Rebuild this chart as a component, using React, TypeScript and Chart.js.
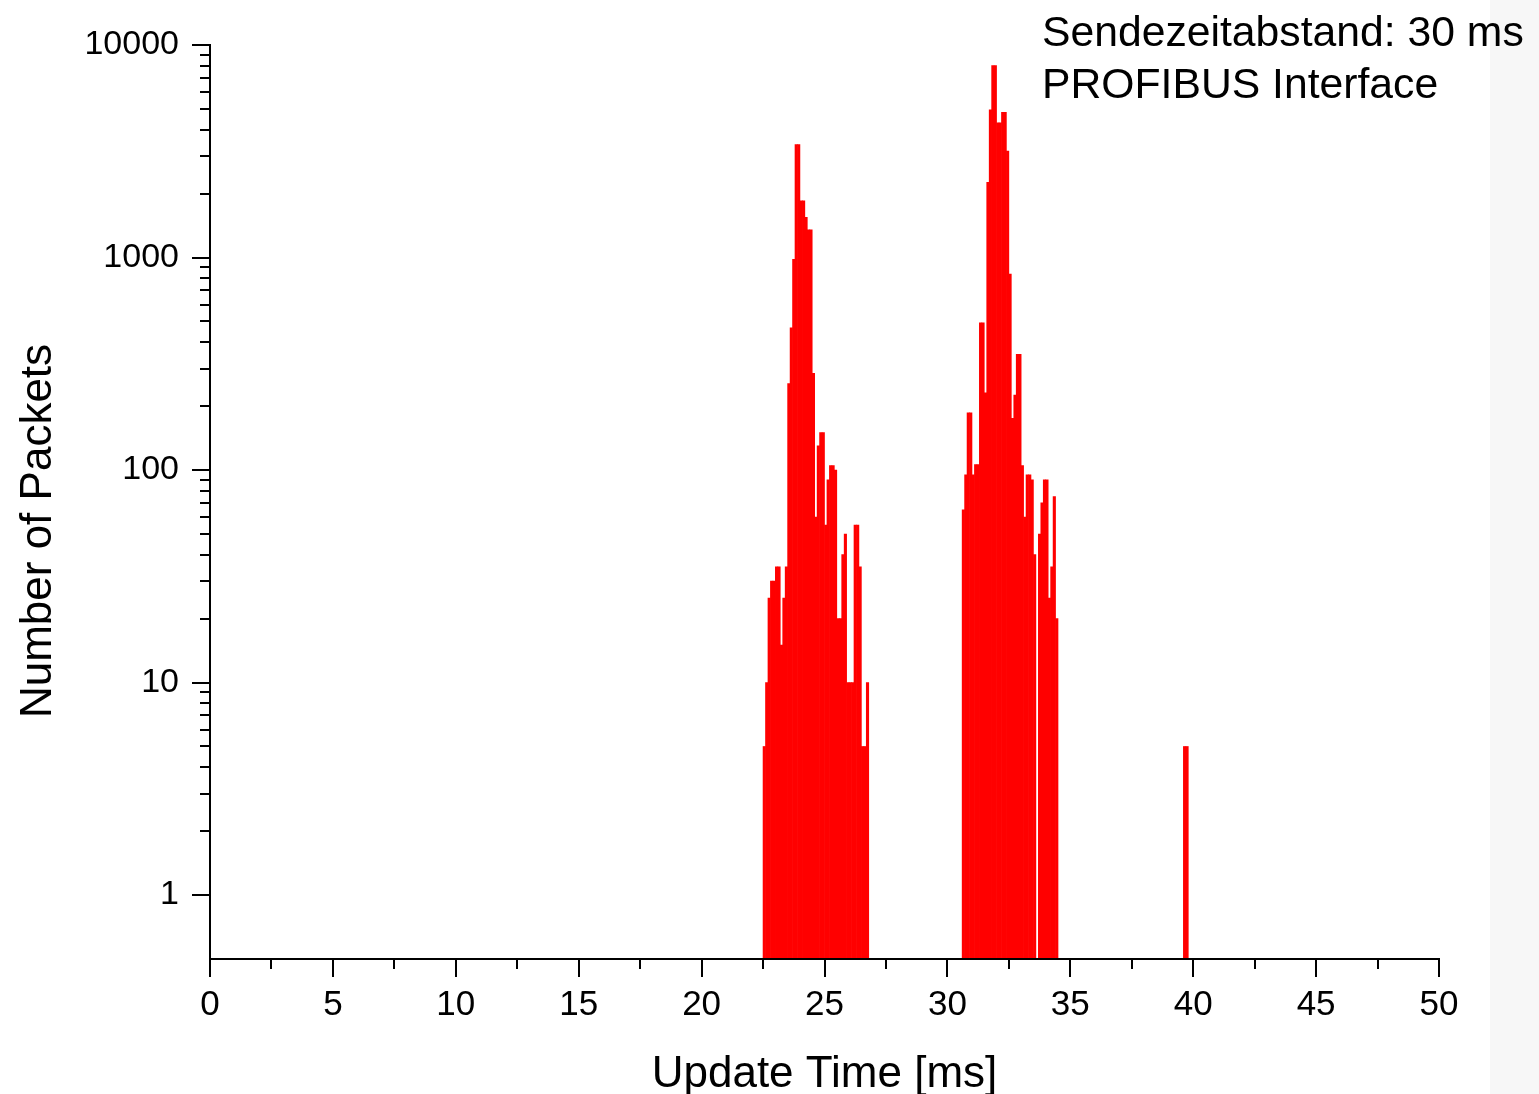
import React, { useEffect, useRef } from "react";
import { Chart, registerables } from "chart.js";

Chart.register(...registerables);

// ---- data ----
const BIN_WIDTH_MS = 0.1;

const firstPeakStarts = [
  22.5, 22.6, 22.7, 22.8, 22.9, 23.0, 23.1, 23.2, 23.3, 23.4,
  23.5, 23.6, 23.7, 23.8, 23.9, 24.0, 24.1, 24.2, 24.3, 24.4,
  24.5, 24.6, 24.7, 24.8, 24.9, 25.0, 25.1, 25.2, 25.3, 25.4,
  25.5, 25.6, 25.7, 25.8, 25.9, 26.0, 26.1, 26.2, 26.3, 26.4,
  26.5, 26.6, 26.7,
];
const firstPeakCounts = [
  5, 10, 25, 30, 30, 35, 35, 15, 25, 35,
  255, 467, 980, 3400, 3400, 1850, 1850, 1545, 1350, 1350,
  285, 60, 130, 150, 150, 55, 90, 105, 105, 100,
  20, 20, 40, 50, 10, 10, 10, 55, 55, 35,
  5, 5, 10,
];

const secondPeakStarts = [
  30.6, 30.7, 30.8, 30.9, 31.0, 31.1, 31.2, 31.3, 31.4, 31.5,
  31.6, 31.7, 31.8, 31.9, 32.0, 32.1, 32.2, 32.3, 32.4, 32.5,
  32.6, 32.7, 32.8, 32.9, 33.0, 33.1, 33.2, 33.3, 33.4, 33.5,
  33.7, 33.8, 33.9, 34.0, 34.1, 34.2, 34.3, 34.4,
];
const secondPeakCounts = [
  65, 95, 186, 186, 95, 106, 106, 493, 493, 231,
  2260, 4950, 8000, 8000, 4300, 4300, 4820, 4820, 3170, 836,
  175, 225, 350, 350, 105, 60, 95, 95, 90, 40,
  50, 70, 90, 90, 25, 35, 75, 20,
];

const outlierStarts = [39.6, 39.7];
const outlierCounts = [5, 5];

const xMajorTicks = [0, 5, 10, 15, 20, 25, 30, 35, 40, 45, 50];
const xMinorTicks = [2.5, 7.5, 12.5, 17.5, 22.5, 27.5, 32.5, 37.5, 42.5, 47.5];
const yMajorTicks = [1, 10, 100, 1000, 10000];
const yMinorMultipliers = [2, 3, 4, 5, 6, 7, 8, 9];

const xTitle = "Update Time [ms]";
const yTitle = "Number of Packets";
const annotationLines = ["Sendezeitabstand: 30 ms", "PROFIBUS Interface"];

const FONT = '"Liberation Sans", Arial, Helvetica, sans-serif';
const BAR_COLOR = "#ff0000";

function toPoints(starts: number[], counts: number[]) {
  return starts.map((s, i) => ({ x: s + BIN_WIDTH_MS / 2, y: counts[i] }));
}

const originStylePlugin = {
  id: "originStyle",
  beforeDraw(chart: any) {
    const { ctx, width, height } = chart;
    ctx.save();
    ctx.fillStyle = "#f7f7f7";
    ctx.fillRect(width - 49, 0, 49, height);
    ctx.restore();
  },
  afterDraw(chart: any) {
    const { ctx, chartArea } = chart;
    const xs = chart.scales.x;
    const ys = chart.scales.y;
    const left = Math.round(chartArea.left);
    const right = Math.round(chartArea.right);
    const top = Math.round(chartArea.top);
    const bottom = Math.round(chartArea.bottom);
    ctx.save();
    ctx.strokeStyle = "#000";
    ctx.lineWidth = 2;
    ctx.lineCap = "butt";
    ctx.beginPath();
    ctx.moveTo(left, top - 1);
    ctx.lineTo(left, bottom + 1);
    ctx.moveTo(left - 1, bottom);
    ctx.lineTo(right + 1, bottom);
    yMajorTicks.forEach((v) => {
      const py = Math.round(ys.getPixelForValue(v));
      ctx.moveTo(left - 18, py);
      ctx.lineTo(left, py);
      if (v < 10000) {
        yMinorMultipliers.forEach((m) => {
          const pm = Math.round(ys.getPixelForValue(v * m));
          ctx.moveTo(left - 10, pm);
          ctx.lineTo(left, pm);
        });
      }
    });
    xMajorTicks.forEach((v) => {
      const px = Math.round(xs.getPixelForValue(v));
      ctx.moveTo(px, bottom);
      ctx.lineTo(px, bottom + 18);
    });
    xMinorTicks.forEach((v) => {
      const px = Math.round(xs.getPixelForValue(v));
      ctx.moveTo(px, bottom);
      ctx.lineTo(px, bottom + 10);
    });
    ctx.stroke();

    // y-axis title
    ctx.fillStyle = "#000";
    ctx.font = `44px ${FONT}`;
    ctx.save();
    ctx.translate(51, 531);
    ctx.rotate(-Math.PI / 2);
    ctx.textAlign = "center";
    ctx.textBaseline = "alphabetic";
    ctx.fillText(yTitle, 0, 0);
    ctx.restore();

    // annotation
    ctx.font = `42.7px ${FONT}`;
    ctx.textAlign = "left";
    ctx.textBaseline = "alphabetic";
    annotationLines.forEach((line, i) => {
      ctx.fillText(line, 1042, 46 + i * 52);
    });
    ctx.restore();
  },
};

export default function App() {
  const canvasRef = useRef<HTMLCanvasElement>(null);

  useEffect(() => {
    if (!canvasRef.current) return;
    Chart.defaults.font.family = FONT;
    const points = [
      ...toPoints(firstPeakStarts, firstPeakCounts),
      ...toPoints(secondPeakStarts, secondPeakCounts),
      ...toPoints(outlierStarts, outlierCounts),
    ];
    const chart = new Chart(canvasRef.current, {
      type: "bar",
      data: {
        datasets: [
          {
            label: "Number of Packets",
            data: points as any,
            backgroundColor: BAR_COLOR,
            borderWidth: 0,
            categoryPercentage: 1,
            barPercentage: 1,
          },
        ],
      },
      options: {
        animation: false,
        responsive: false,
        events: [],
        layout: { padding: { top: 45, right: 100, left: 0, bottom: 0 } },
        plugins: {
          legend: { display: false },
          tooltip: { enabled: false },
          title: { display: false },
        },
        scales: {
          x: {
            type: "linear",
            min: 0,
            max: 50,
            offset: false,
            grid: { display: false, drawTicks: false },
            border: { display: false },
            ticks: {
              padding: 25,
              color: "#000",
              font: { size: 35, family: FONT },
              maxRotation: 0,
              autoSkip: false,
              callback: (v: any) => String(v),
            },
            afterBuildTicks: (s: any) => {
              s.ticks = xMajorTicks.map((v) => ({ value: v }));
            },
            afterFit: (s: any) => {
              s.height = 135;
              s.paddingLeft = 0;
              s.paddingRight = 0;
            },
            title: {
              display: true,
              text: xTitle,
              color: "#000",
              font: { size: 44, family: FONT },
              padding: { top: 0, bottom: -7 },
            },
          },
          y: {
            type: "logarithmic",
            min: 0.5,
            max: 10000,
            grid: { display: false, drawTicks: false },
            border: { display: false },
            ticks: {
              padding: 31,
              color: "#000",
              font: { size: 34, family: FONT },
              autoSkip: false,
              callback: (v: any) => String(v),
            },
            afterBuildTicks: (s: any) => {
              s.ticks = yMajorTicks.map((v) => ({ value: v }));
            },
            afterFit: (s: any) => {
              s.width = 210;
              s.paddingTop = 0;
              s.paddingBottom = 0;
            },
          },
        },
      } as any,
      plugins: [originStylePlugin],
    });
    return () => chart.destroy();
  }, []);

  return (
    <div
      style={{
        position: "fixed",
        left: 0,
        top: 0,
        width: 1539,
        height: 1094,
        background: "#ffffff",
      }}
    >
      <canvas
        ref={canvasRef}
        width={1539}
        height={1094}
        style={{ display: "block", width: 1539, height: 1094 }}
      />
    </div>
  );
}
